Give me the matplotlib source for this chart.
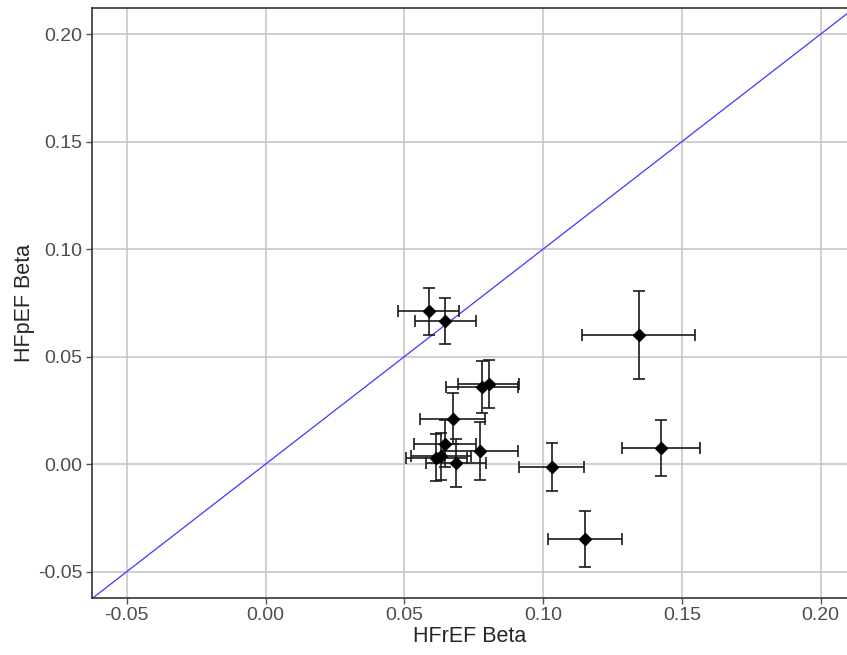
import matplotlib
matplotlib.use("Agg")
import matplotlib.pyplot as plt

plt.rcParams['font.family'] = ['Liberation Sans', 'DejaVu Sans']

# Data (HFrEF beta on x, HFpEF beta on y)
hfref_beta = [0.0588, 0.0647, 0.1344, 0.1425, 0.1032, 0.1152,
              0.0780, 0.0804, 0.0675, 0.0647, 0.0615, 0.0633, 0.0686, 0.0774]
hfpef_beta = [0.0710, 0.0667, 0.0600, 0.0075, -0.0014, -0.0350,
              0.0359, 0.0374, 0.0212, 0.0096, 0.0030, 0.0037, 0.0005, 0.0061]
hfref_err = [0.0110, 0.0110, 0.0202, 0.0140, 0.0117, 0.0134,
             0.0130, 0.0110, 0.0117, 0.0111, 0.0110, 0.0108, 0.0108, 0.0134]
hfpef_err = [0.0107, 0.0107, 0.0204, 0.0132, 0.0113, 0.0130,
             0.0122, 0.0112, 0.0117, 0.0110, 0.0110, 0.0110, 0.0113, 0.0135]

ticks = [-0.05, 0.00, 0.05, 0.10, 0.15, 0.20]
tick_labels = ["-0.05", "0.00", "0.05", "0.10", "0.15", "0.20"]

fig = plt.figure(figsize=(8.47, 6.55), dpi=100)
ax = fig.add_axes([0.109, 0.0875, 0.891, 0.8998])

ax.set_xlim(-0.0624, 0.2095)
ax.set_ylim(-0.0621, 0.2120)

ax.grid(True, color="#c4c4c4", linewidth=1.1, zorder=0)
ax.set_axisbelow(True)

ax.axline((0, 0), slope=1, color="#3a3aff", linewidth=0.9, zorder=2)

ax.errorbar(hfref_beta, hfpef_beta, xerr=hfref_err, yerr=hfpef_err,
            fmt='D', color='black', ecolor='#1a1a1a', elinewidth=1.2,
            capsize=4.5, capthick=1.2, markersize=6.3, zorder=3)

ax.set_xticks(ticks)
ax.set_xticklabels(tick_labels)
ax.set_yticks(ticks)
ax.set_yticklabels(tick_labels)

ax.tick_params(axis='both', direction='out', length=4, width=1,
               color='#555555', labelcolor='#4d4d4d', labelsize=14, pad=3)

for side in ['left', 'top', 'bottom']:
    ax.spines[side].set_color('#333333')
    ax.spines[side].set_linewidth(1.2)
ax.spines['right'].set_visible(False)

ax.set_xlabel("HFrEF Beta", fontsize=15.5, color='#262626', labelpad=1)
ax.set_ylabel("HFpEF Beta", fontsize=15.5, color='#262626', labelpad=2)

fig.savefig("out.png", dpi=100)
